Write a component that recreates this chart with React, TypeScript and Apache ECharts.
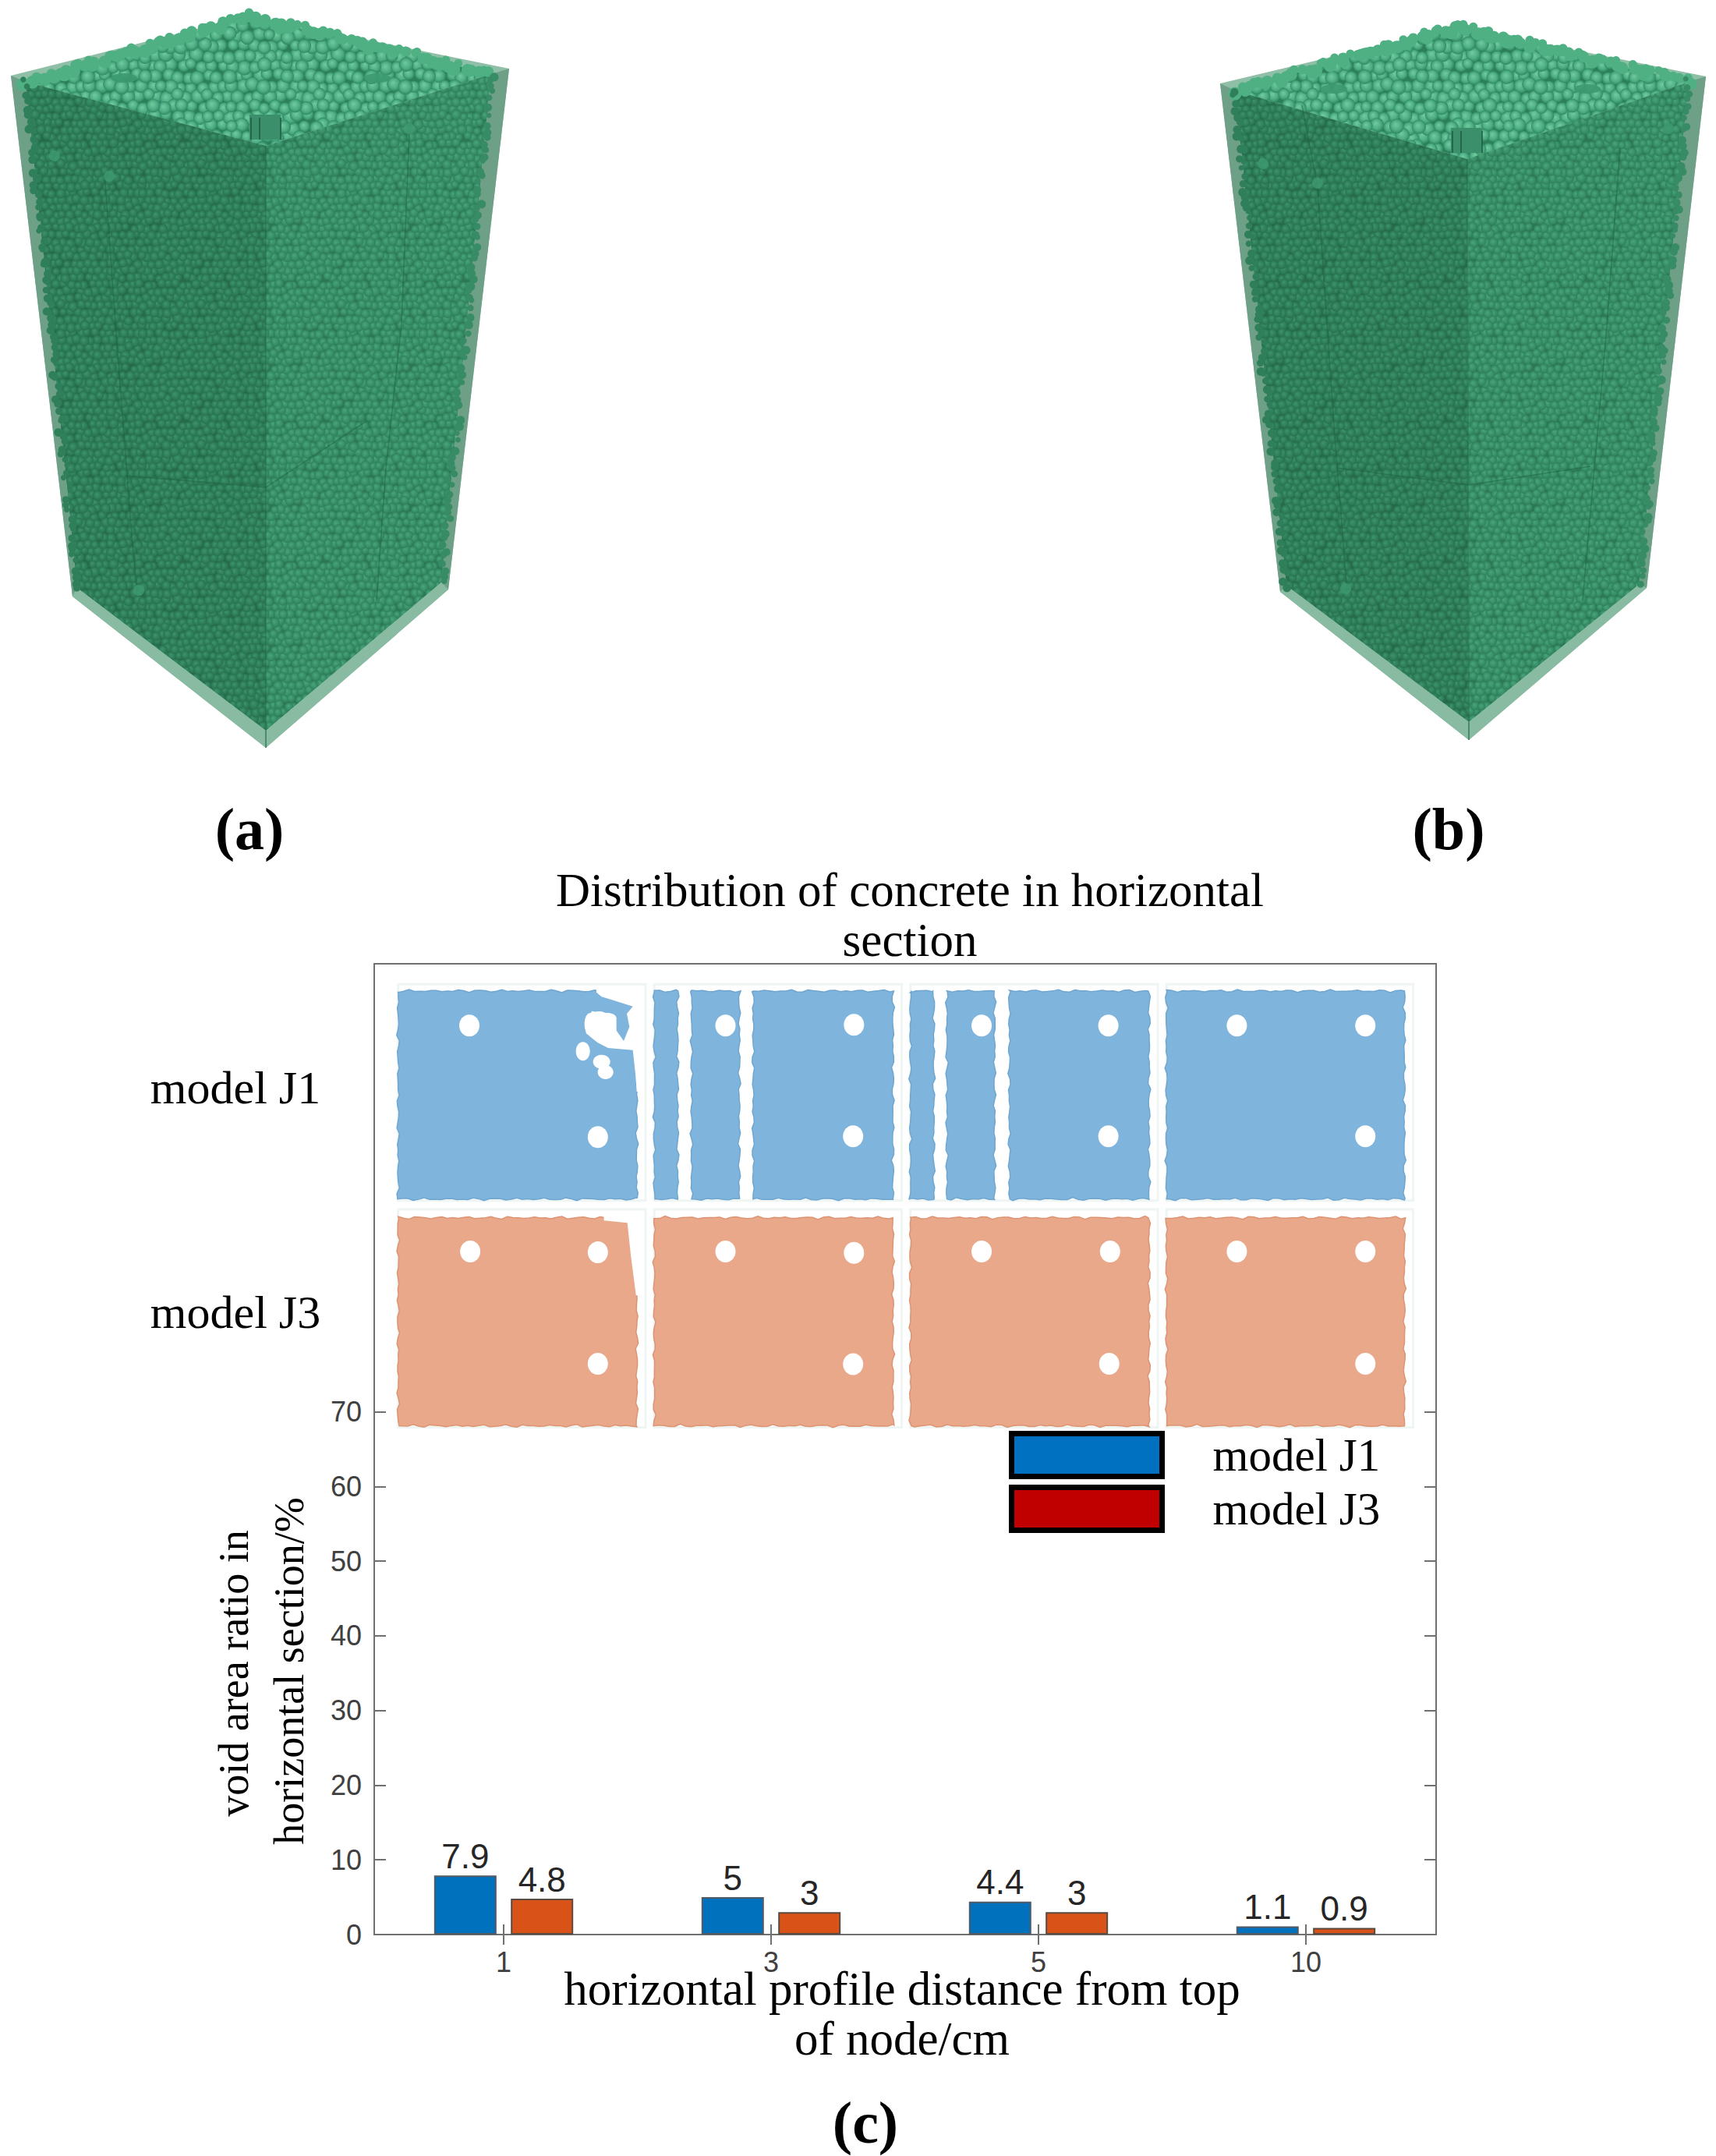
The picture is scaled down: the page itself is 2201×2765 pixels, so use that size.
import React, { useEffect, useRef } from "react";
import * as echarts from "echarts";

const categories = ["1", "3", "5", "10"];
const categoryPositions = [1, 2, 3, 4];
const modelJ1 = [7.9, 5, 4.4, 1.1];
const modelJ3 = [4.8, 3, 3, 0.9];
const yTicks = [0, 10, 20, 30, 40, 50, 60, 70];

const SERIF = "Liberation Serif";
const SANS = "Liberation Sans";
const AXIS = "#707070";

type P = [number, number];

const hash = (a: number, b: number) => {
  const h = Math.sin(a * 12.9898 + b * 78.233) * 43758.5453;
  return h - Math.floor(h);
};

// ---- decorative texture (spheres) for the 3D renderings ----
function sphereTile(size: number, step: number, dark: string, mid: string, light: string, bg: string) {
  const c = document.createElement("canvas");
  c.width = size;
  c.height = size;
  const g = c.getContext("2d")!;
  g.fillStyle = bg;
  g.fillRect(0, 0, size, size);
  const n = Math.round(size / step);
  const order: P[] = [];
  for (let j = 0; j < n; j++) for (let i = 0; i < n; i++) order.push([i, j]);
  order.sort((a, b) => hash(a[0] + 3, a[1] + 7) - hash(b[0] + 3, b[1] + 7));
  for (const [i, j] of order) {
    const f = hash(i, j);
    const f2 = hash(i + 31, j + 17);
    const f3 = hash(i + 11, j + 53);
    const cx = (i + (j % 2) * 0.5) * step + (f - 0.5) * step * 0.45;
    const cy = (j + 0.5) * step + (f2 - 0.5) * step * 0.45;
    const r = step * (0.55 + f3 * 0.2);
    for (const dx of [-size, 0, size]) {
      for (const dy of [-size, 0, size]) {
        const x = cx + dx;
        const y = cy + dy;
        const grad = g.createRadialGradient(x - r * 0.15, y - r * 0.2, r * 0.1, x, y, r);
        grad.addColorStop(0, light);
        grad.addColorStop(0.6, mid);
        grad.addColorStop(1, dark);
        g.fillStyle = grad;
        g.beginPath();
        g.arc(x, y, r, 0, Math.PI * 2);
        g.fill();
      }
    }
  }
  return c;
}

interface Box {
  tl: P; tr: P; apex: P; bl: P; br: P; bottom: P; front: P;
  il: P; ir: P; ibl: P; ibr: P; ifb: P;
  seams: P[][];
  pits: P[];
}

const boxA: Box = {
  tl: [14, 97], tr: [653, 88], apex: [319, 20], bl: [93, 765], br: [575, 756], bottom: [341, 959], front: [341, 187],
  il: [33, 105], ir: [630, 95], ibl: [99, 754], ibr: [566, 747], ifb: [341, 937],
  seams: [
    [[134, 222], [150, 440], [170, 700], [176, 760]],
    [[525, 170], [515, 415], [495, 600], [483, 770]],
    [[160, 610], [341, 625]],
    [[341, 625], [470, 540]],
  ],
  pits: [[70, 200], [140, 226], [178, 757], [525, 165]],
};

const boxB: Box = {
  tl: [1565, 107], tr: [2188, 98], apex: [1871, 34], bl: [1642, 759], br: [2112, 754], bottom: [1884, 949], front: [1882, 204],
  il: [1584, 116], ir: [2166, 105], ibl: [1650, 751], ibr: [2103, 749], ifb: [1884, 926],
  seams: [
    [[1670, 135], [1690, 240], [1712, 560], [1728, 760]],
    [[2078, 190], [2060, 430], [2045, 600], [2030, 770]],
    [[1714, 600], [1884, 622]],
    [[1884, 622], [2040, 598]],
  ],
  pits: [[1620, 210], [1690, 235], [1726, 755], [2140, 165]],
};

function poly(points: P[], fill: any, extra: any = {}) {
  return { type: "polygon", z: 10, silent: true, shape: { points }, style: { fill, ...extra } };
}

// loose particles that break up a straight edge of the block
function edgeBeads(a: P, b: P, count: number, r: number, fill: string, seed: number, spread: number) {
  const out: any[] = [];
  for (let i = 0; i <= count; i++) {
    const t = i / count;
    const j = hash(i + seed, seed * 2 + 1) - 0.5;
    const k = hash(i + seed + 9, seed + 4);
    out.push({
      type: "circle", z: 11, silent: true,
      shape: { cx: a[0] + (b[0] - a[0]) * t + j * spread, cy: a[1] + (b[1] - a[1]) * t + (k - 0.5) * spread, r: r * (0.75 + k * 0.5) },
      style: { fill },
    });
  }
  return out;
}

function boxElements(b: Box, top: any, left: any, right: any, seed: number) {
  const els: any[] = [];
  els.push(poly([b.tl, b.apex, b.tr, b.br, b.bottom, b.bl], "#8fbfa7"));
  els.push(poly([b.il, b.apex, b.ir, b.front], top));
  els.push(poly([b.il, b.front, b.ifb, b.ibl], left));
  els.push(poly([b.front, b.ir, b.ibr, b.ifb], right));
  els.push(poly([b.tl, b.il, b.ibl, b.bl], "#6e9f87"));
  els.push(poly([b.tr, b.ir, b.ibr, b.br], "#6e9f87"));
  els.push(poly([b.bl, b.ibl, b.ifb, b.ibr, b.br, b.bottom], "#88bba2"));
  els.push(...edgeBeads(b.il, b.apex, 50, 7, "#4fb084", seed + 1, 10));
  els.push(...edgeBeads(b.apex, b.ir, 50, 7, "#4fb084", seed + 2, 10));
  els.push(...edgeBeads(b.il, b.ibl, 80, 4.5, "#2f7f5b", seed + 3, 8));
  els.push(...edgeBeads(b.ir, b.ibr, 80, 4.5, "#378c66", seed + 4, 8));
  els.push({
    type: "line", z: 11, silent: true,
    shape: { x1: b.front[0], y1: b.front[1], x2: b.ifb[0], y2: b.ifb[1] },
    style: { stroke: "#1f6a47", lineWidth: 1.5, opacity: 0.5 },
  });
  els.push({
    type: "line", z: 11, silent: true,
    shape: { x1: b.ifb[0], y1: b.ifb[1], x2: b.bottom[0], y2: b.bottom[1] },
    style: { stroke: "#4c8a6d", lineWidth: 2 },
  });
  for (const s of b.seams) {
    els.push({
      type: "polyline", z: 11, silent: true, shape: { points: s },
      style: { stroke: "#1d6242", lineWidth: 1.5, opacity: 0.5, fill: "none" },
    });
  }
  for (const p of b.pits) {
    els.push({
      type: "circle", z: 11, silent: true, shape: { cx: p[0], cy: p[1], r: 7 },
      style: { fill: "#3f9a70", opacity: 0.8 },
    });
  }
  // rebar openings seen on the top surface
  const [fx, fy] = b.front;
  els.push({
    type: "rect", z: 11, silent: true,
    shape: { x: fx - 21, y: fy - 40, width: 40, height: 32 },
    style: { fill: "#3c8f6b" },
  });
  for (const dx of [-19, -8, 19]) {
    els.push({
      type: "line", z: 11, silent: true,
      shape: { x1: fx + dx, y1: fy - 36, x2: fx + dx, y2: fy - 8 },
      style: { stroke: "#1d5a40", lineWidth: 1.5 },
    });
  }
  for (const dx of [-170, 165]) {
    els.push({
      type: "ellipse", z: 11, silent: true,
      shape: { cx: b.apex[0] + dx + (dx < 0 ? 10 : 0), cy: b.apex[1] + 80, rx: 17, ry: 6 },
      style: { fill: "#3d9a70", opacity: 0.9 },
    });
  }
  return els;
}

// ---- horizontal-section pictures ----
const zx = (v: number) => v / 0.898 + 151;
const zy = (v: number) => v / 1.96 + 1100;
const cornerX = (v: number) => 700 + v / 3;
const cornerY = (v: number) => 1250 + v / 3;

function wavy(x0: number, y0: number, x1: number, y1: number, seed: number): P[] {
  const pts: P[] = [];
  const w = (t: number) =>
    1.0 * Math.sin(t * 0.21 + seed) + 0.7 * Math.sin(t * 0.53 + seed * 2.3) + 0.5 * Math.sin(t * 1.17 + seed * 0.7);
  const step = 7;
  for (let x = x0; x < x1; x += step) pts.push([x, y0 + w(x)]);
  for (let y = y0; y < y1; y += step) pts.push([x1 + w(y), y]);
  for (let x = x1; x > x0; x -= step) pts.push([x, y1 + w(x + 40)]);
  for (let y = y1; y > y0; y -= step) pts.push([x0 + w(y + 40), y]);
  return pts;
}

const panelColumns: [number, number][] = [[323, 598], [618, 893], [913, 1188], [1208, 1482]];
const rowJ1: [number, number] = [335, 858];
const rowJ3: [number, number] = [905, 1428];

const stripsJ1: [number, number][][] = [
  [[323, 598]],
  [[618, 645], [661, 716], [732, 893]],
  [[913, 940], [955, 1010], [1027, 1188]],
  [[1208, 1482]],
];

const holesJ1: P[] = [
  [405, 422], [553, 702],
  [700, 422], [848, 420], [847, 700],
  [995, 422], [1141, 422], [1141, 700],
  [1289, 422], [1437, 422], [1437, 700],
];
const holesJ3: P[] = [
  [406, 990], [553, 992], [553, 1272],
  [700, 990], [848, 993], [847, 1273],
  [995, 990], [1143, 990], [1142, 1272],
  [1289, 990], [1437, 990], [1437, 1272],
];
const voidOutline: P[] = [
  [195, 68], [215, 85], [250, 95], [335, 122], [312, 150], [322, 200], [300, 255], [272, 215], [272, 165], [220, 150],
  [178, 140], [152, 175], [155, 225], [200, 262], [240, 282], [335, 290], [345, 380], [350, 450], [365, 450],
  [365, 50], [195, 50],
];
const smallVoids: [number, number, number, number][] = [
  [143, 295, 9, 12], [215, 335, 11, 9], [230, 375, 10, 9],
  [205, 195, 18, 18], [170, 190, 7, 14], [235, 165, 12, 6],
];

function hole(p: P) {
  return {
    type: "ellipse", z: 13, silent: true,
    shape: { cx: zx(p[0]), cy: zy(p[1]), rx: 13, ry: 14 },
    style: { fill: "#ffffff" },
  };
}

function sectionElements() {
  const els: any[] = [];
  const blue = "#7fb5dd";
  const blueEdge = "#6fa6d0";
  const orange = "#eaa88a";
  const orangeEdge = "#dc9473";
  panelColumns.forEach(([a, b]) => {
    for (const [t, bt] of [[318, 862], [884, 1432]]) {
      els.push({
        type: "rect", z: 11, silent: true,
        shape: { x: zx(a), y: zy(t), width: zx(b + 10) - zx(a), height: zy(bt) - zy(t) },
        style: { fill: "#ffffff", stroke: "#eef5f3", lineWidth: 3 },
      });
    }
  });
  stripsJ1.forEach((strips, i) => {
    strips.forEach(([a, b], k) => {
      els.push({
        type: "polygon", z: 12, silent: true,
        shape: { points: wavy(zx(a), zy(rowJ1[0]), zx(b), zy(rowJ1[1]), i * 3.1 + k + 1) },
        style: { fill: blue, stroke: blueEdge, lineWidth: 1.5 },
      });
    });
  });
  panelColumns.forEach(([a, b], i) => {
    els.push({
      type: "polygon", z: 12, silent: true,
      shape: { points: wavy(zx(a), zy(rowJ3[0]), zx(b), zy(rowJ3[1]), i * 2.7 + 5) },
      style: { fill: orange, stroke: orangeEdge, lineWidth: 1.5 },
    });
  });
  holesJ1.forEach((p) => els.push(hole(p)));
  holesJ3.forEach((p) => els.push(hole(p)));
  // the unfilled corner of the first J1 section
  els.push({
    type: "polygon", z: 13, silent: true,
    shape: { points: voidOutline.map(([x, y]) => [cornerX(x), cornerY(y)]) },
    style: { fill: "#ffffff" },
  });
  smallVoids.forEach(([x, y, rx, ry]) =>
    els.push({
      type: "ellipse", z: 13, silent: true,
      shape: { cx: cornerX(x), cy: cornerY(y), rx, ry },
      style: { fill: "#ffffff" },
    })
  );
  els.push({
    type: "polygon", z: 13, silent: true,
    shape: {
      points: [[560, 912], [587, 918], [591, 1000], [597, 1100], [604, 1100], [604, 900], [560, 900]].map(([x, y]) => [zx(x), zy(y)]),
    },
    style: { fill: "#ffffff" },
  });
  return els;
}

function label(text: string, x: number, y: number, size: number, extra: any = {}, rotation = 0) {
  return {
    type: "text", z: 20, silent: true, x, y, rotation,
    style: {
      text, fontFamily: SERIF, fontSize: size, fill: "#000000",
      textAlign: "center", textVerticalAlign: "middle", ...extra,
    },
  };
}

const axisLineStyle = { show: true, lineStyle: { color: AXIS, width: 2 } };

export default function App() {
  const ref = useRef<HTMLDivElement>(null);
  useEffect(() => {
    document.body.style.margin = "0";
    const chart = echarts.init(ref.current!, null, { renderer: "svg", width: 2201, height: 2765 });
    const tile = (c: HTMLCanvasElement) => ({ image: c, repeat: "repeat", imageWidth: c.width, imageHeight: c.height });
    const topT = tile(sphereTile(182, 13, "#2f8a63", "#4fae84", "#6cc79c", "#2c7f59"));
    const leftT = tile(sphereTile(180, 9, "#28714f", "#2f7f5b", "#3b9169", "#256b4b"));
    const rightT = tile(sphereTile(180, 9, "#2f7f5c", "#389067", "#47a179", "#2c7856"));

    chart.setOption({
      animation: false,
      backgroundColor: "#ffffff",
      title: {
        text: "Distribution of concrete in horizontal\nsection",
        left: 1162,
        top: 1104,
        textAlign: "center",
        textStyle: { fontFamily: SERIF, fontWeight: "normal", fontSize: 61, lineHeight: 64, color: "#000" },
      },
      legend: {
        orient: "vertical",
        left: 1294,
        top: 1835,
        align: "left",
        itemWidth: 193,
        itemHeight: 55,
        itemGap: 7,
        padding: 0,
        selectedMode: false,
        textStyle: { fontFamily: SERIF, fontSize: 59, lineHeight: 58, color: "#000", padding: [0, 0, 0, 60] },
        data: [
          { name: "model J1", icon: "rect", itemStyle: { color: "#0070C0", borderColor: "#000", borderWidth: 7 } },
          { name: "model J3", icon: "rect", itemStyle: { color: "#C00000", borderColor: "#000", borderWidth: 7 } },
        ],
      },
      grid: { left: 480, right: 359, top: 1236, bottom: 284, show: true, borderColor: AXIS, borderWidth: 2, backgroundColor: "#fff" },
      xAxis: [
        {
          type: "value",
          min: 0.516,
          max: 4.487,
          position: "bottom",
          splitLine: { show: false },
          axisLine: axisLineStyle,
          axisTick: { show: true, inside: true, length: 13, customValues: categoryPositions, lineStyle: { color: AXIS, width: 2 } },
          axisLabel: {
            fontFamily: SANS, fontSize: 36, color: "#404040", margin: 17,
            customValues: categoryPositions,
            formatter: (v: number) => categories[v - 1],
          },
          name: "horizontal profile distance from top\nof node/cm",
          nameLocation: "middle",
          nameGap: 37,
          nameMoveOverlap: false,
          nameTextStyle: { fontFamily: SERIF, fontSize: 61, lineHeight: 64, color: "#000", verticalAlign: "top", padding: [0, 8, 0, 0] },
        },
        {
          type: "value",
          min: 0.516,
          max: 4.487,
          position: "top",
          splitLine: { show: false },
          axisLine: axisLineStyle,
          axisTick: { show: true, inside: true, length: 13, customValues: categoryPositions, lineStyle: { color: AXIS, width: 2 } },
          axisLabel: { show: false },
        },
      ],
      yAxis: [
        {
          type: "value",
          min: 0,
          max: 130,
          interval: 10,
          position: "left",
          splitLine: { show: false },
          axisLine: axisLineStyle,
          axisTick: { show: true, inside: true, length: 15, customValues: yTicks, lineStyle: { color: AXIS, width: 2 } },
          axisLabel: { fontFamily: SANS, fontSize: 36, color: "#404040", margin: 16, customValues: yTicks },
        },
        {
          type: "value",
          min: 0,
          max: 130,
          interval: 10,
          position: "right",
          splitLine: { show: false },
          axisLine: axisLineStyle,
          axisTick: { show: true, inside: true, length: 15, customValues: yTicks, lineStyle: { color: AXIS, width: 2 } },
          axisLabel: { show: false },
        },
      ],
      series: [
        {
          name: "model J1",
          type: "bar",
          data: modelJ1.map((v, i) => [categoryPositions[i], v]),
          barWidth: 80,
          barGap: "23%",
          itemStyle: { color: "#0072BD", borderColor: "#4f5a66", borderWidth: 2 },
          label: { show: true, position: "top", distance: 3, fontFamily: SANS, fontSize: 44, color: "#262626", formatter: (p: any) => String(p.value[1]) },
        },
        {
          name: "model J3",
          type: "bar",
          data: modelJ3.map((v, i) => [categoryPositions[i], v]),
          barWidth: 80,
          barGap: "23%",
          itemStyle: { color: "#D95319", borderColor: "#5a4a40", borderWidth: 2 },
          label: { show: true, position: "top", distance: 3, fontFamily: SANS, fontSize: 44, color: "#262626", formatter: (p: any) => String(p.value[1]) },
        },
      ],
      graphic: {
        elements: [
          ...boxElements(boxA, topT, leftT, rightT, 1),
          ...boxElements(boxB, topT, leftT, rightT, 40),
          ...sectionElements(),
          label("(a)", 320, 1063, 76, { fontWeight: "bold" }),
          label("(b)", 1858, 1063, 76, { fontWeight: "bold" }),
          label("(c)", 1110, 2722, 76, { fontWeight: "bold" }),
          label("model J1", 302, 1395, 60),
          label("model J3", 302, 1683, 60),
          label("void area ratio in", 300, 2146, 54, {}, Math.PI / 2),
          label("horizontal section/%", 371, 2143, 54, {}, Math.PI / 2),
        ],
      },
    });
    return () => chart.dispose();
  }, []);
  return <div ref={ref} style={{ width: 2201, height: 2765 }} />;
}
